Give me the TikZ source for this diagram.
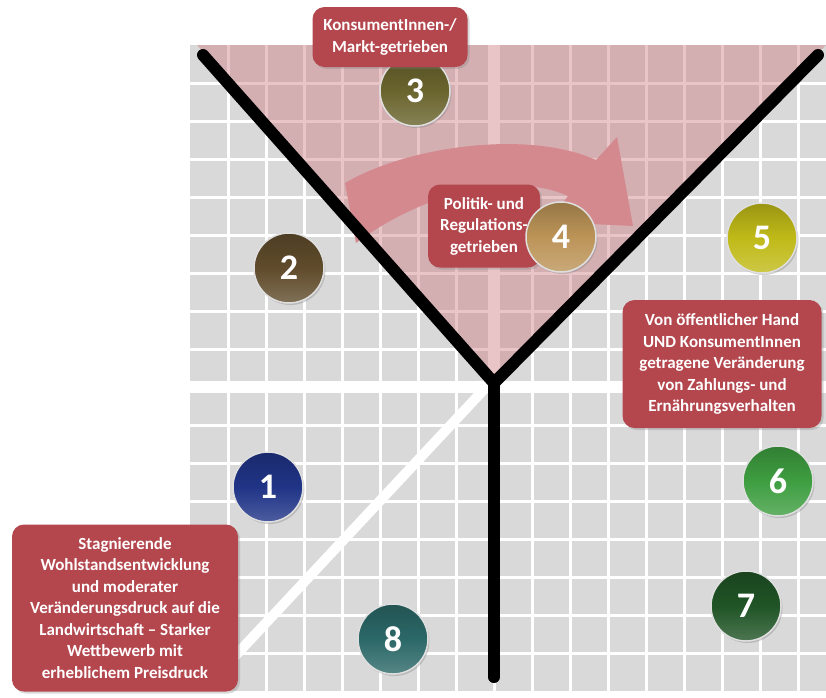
\documentclass[tikz,border=0pt]{standalone}
\usepackage{fontspec}
\setmainfont{Carlito}
\usetikzlibrary{shadows}

\definecolor{gridgray}{RGB}{217,217,217}
\definecolor{conepink}{RGB}{207,119,126}
\definecolor{arrowpink}{RGB}{212,137,142}
\definecolor{boxred}{RGB}{180,71,78}
\definecolor{ballblue}{RGB}{32,52,135}
\definecolor{ballbrown}{RGB}{96,76,44}
\definecolor{ballolive}{RGB}{106,100,46}
\definecolor{balltan}{RGB}{188,148,88}
\definecolor{ballyellow}{RGB}{192,186,24}
\definecolor{ballgreen}{RGB}{62,158,64}
\definecolor{balldarkgreen}{RGB}{32,84,38}
\definecolor{ballteal}{RGB}{44,104,104}

\tikzset{
  ball/.style={circle, minimum size=70pt, inner sep=0pt, draw=white!75!gray, line width=1.5pt,
    top color=#1!80!black, bottom color=#1!80!white, middle color=#1,
    text=white, font=\fontsize{36}{36}\selectfont\bfseries,
    drop shadow={shadow xshift=1.5pt, shadow yshift=-2pt, opacity=0.35}},
  labelbox/.style={rounded corners=12pt, fill=boxred, text=white, align=center, inner sep=0pt,
    font=\fontsize{17}{21.5}\selectfont\bfseries,
    drop shadow={shadow xshift=2pt, shadow yshift=-2pt, opacity=0.3}},
  axisline/.style={white, line width=12pt},
  yline/.style={black, line width=12pt, line cap=round, line join=miter}
}

\begin{document}
\begin{tikzpicture}[x=1pt, y=-1pt]
\useasboundingbox (0,0) rectangle (826,697);

% raster
\fill[gridgray] (190,45) rectangle (826,691);
\foreach \i in {1,...,16} {
  \draw[white, line width=3pt] (190+38*\i,45) -- ++(0,646);
  \draw[white, line width=3pt] (190,45+38*\i) -- ++(636,0);
}

% achsen
\coordinate (hub) at (494,387);
\draw[axisline] (190,387) -- (826,387);
\draw[axisline] (494,45) -- (hub);
\draw[axisline, line width=10pt] (490,383) -- (222,670);

% trichter
\fill[conepink, fill opacity=0.42] (197,45) -- (494,383) -- (826,45) -- cycle;
\fill[arrowpink] (345,183) .. controls (410,145) and (530,130) .. (596,160)
  -- (617,137) -- (633,226) -- (548,222) -- (568,196)
  .. controls (510,170) and (420,195) .. (356,243) -- cycle;

\coordinate (arm l) at (203,55);
\coordinate (arm r) at (818,55);
\coordinate (knot) at (494,383);
\coordinate (foot) at (494,677);
\draw[yline] (arm l) -- (knot) -- (arm r);
\draw[yline] (knot) -- (foot);

% szenarien
\node[labelbox, minimum width=112pt, minimum height=83pt] (politik) at (484,226) {Politik- und\\Regulations-\\getrieben};
\node[ball=ballblue] (s1) at (268,487) {1};
\node[ball=ballbrown] (s2) at (289,268) {2};
\node[ball=ballolive] (s3) at (415,91) {3};
\node[ball=balltan] (s4) at (561,237) {4};
\node[ball=ballyellow] (s5) at (762,238) {5};
\node[ball=ballgreen] (s6) at (778,481) {6};
\node[ball=balldarkgreen] (s7) at (746,606) {7};
\node[ball=ballteal] (s8) at (393,639) {8};

\node[labelbox, minimum width=155pt, minimum height=60pt] (markt) at (390,37) {KonsumentInnen-/\\Markt-getrieben};
\node[labelbox, minimum width=199pt, minimum height=128pt] (hand) at (722,364) {Von öffentlicher Hand\\UND KonsumentInnen\\getragene Veränderung\\von Zahlungs- und\\Ernährungsverhalten};
\node[labelbox, minimum width=226pt, minimum height=167pt] (stagnation) at (125,608) {Stagnierende\\Wohlstandsentwicklung\\und moderater\\Veränderungsdruck auf die\\Landwirtschaft – Starker\\Wettbewerb mit\\erheblichem Preisdruck};
\end{tikzpicture}
\end{document}
